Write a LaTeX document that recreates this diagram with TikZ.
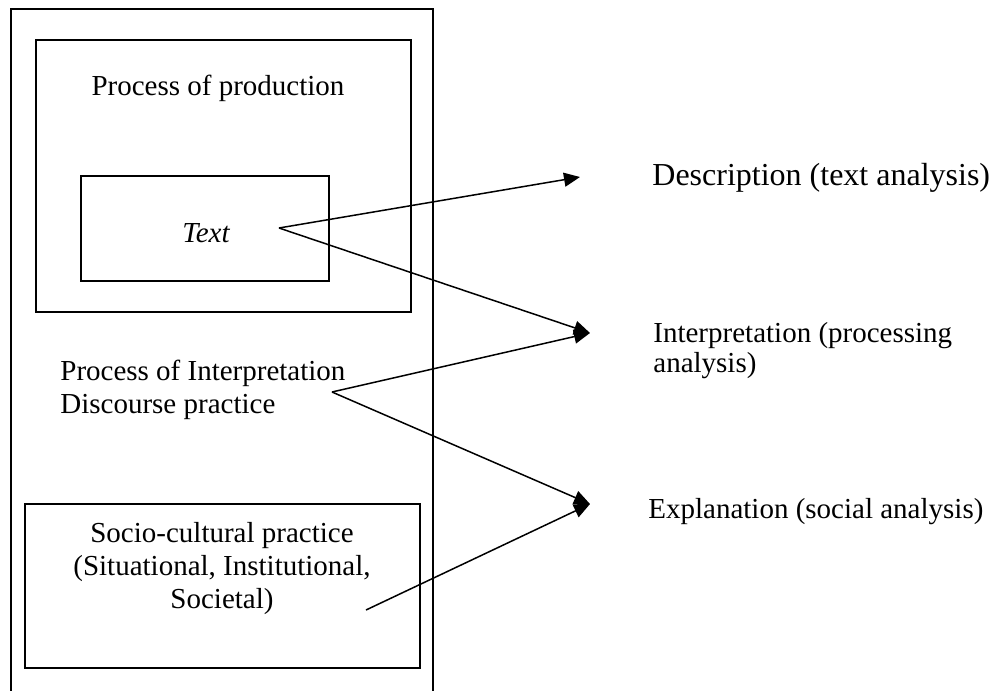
\documentclass[tikz,border=0pt]{standalone}
\usepackage{fontspec}
\setmainfont{Liberation Serif}
\usetikzlibrary{positioning,arrows.meta}

\tikzset{
  box/.style={draw,line width=0.75pt,inner sep=0pt},
  lbl/.style={font=\fontsize{14.5}{16.5}\selectfont,inner sep=0pt},
  arr/.style={line width=0.75pt,-{Triangle[length=8pt,width=7pt]}}
}

\begin{document}
\begin{tikzpicture}[x=0.5pt,y=-0.5pt]
\useasboundingbox (0,0) rectangle (992,691);

% outer frame, open at the bottom
\draw[line width=0.75pt] (11,691) -- (11,9) -- (433,9) -- (433,691);

\node[box,minimum width=187.5pt,minimum height=136pt] (prod) at (223.5,176) {};
\node[box,minimum width=124pt,minimum height=52.5pt] (textbox) at (205,228.5) {};
\node[box,minimum width=197.5pt,minimum height=82pt] (socio) at (222.5,586) {};

\node[lbl,anchor=base] (prodlbl) at (218,95) {Process of production};
\node[lbl,anchor=base] (textlbl) at (206,242) {\itshape Text};
\node[lbl,anchor=base west,align=left] (interp) at (60,413) {Process of Interpretation\\Discourse practice};
\node[lbl,anchor=base,align=center] (sociolbl) at (222,608) {Socio-cultural practice\\(Situational, Institutional,\\Societal)};

\node[lbl,font=\fontsize{16}{18}\selectfont,anchor=base west] (descr) at (652,185) {Description (text analysis)};
\node[lbl,font=\fontsize{14.5}{15}\selectfont,anchor=base west,align=left] (interpr) at (653,372) {Interpretation (processing\\analysis)};
\node[lbl,anchor=base west] (expl) at (648,518) {Explanation (social analysis)};

\coordinate (t) at (279,228);
\coordinate (d) at (332,392);
\coordinate (s) at (366,610);
\coordinate (tipa) at (580,177);
\coordinate (tipb) at (590,333);
\coordinate (tipc) at (590,504);

\draw[arr] (t) -- (tipa);
\draw[arr] (t) -- (tipb);
\draw[arr] (d) -- (tipb);
\draw[arr] (d) -- (tipc);
\draw[arr] (s) -- (tipc);
\end{tikzpicture}
\end{document}
